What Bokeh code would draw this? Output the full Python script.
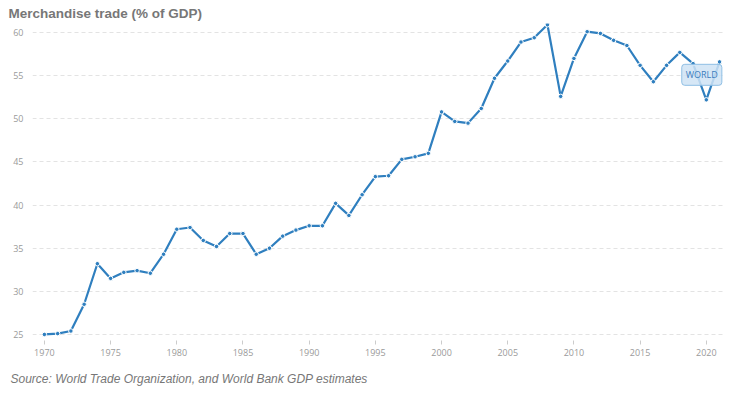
from bokeh.plotting import figure
from bokeh.models import Title, Label, FixedTicker, Range1d
from bokeh.embed import file_html
from bokeh.resources import INLINE

years = list(range(1970, 2022))
trade = [25.0, 25.1, 25.4, 28.5, 33.2, 31.5, 32.2, 32.4, 32.1, 34.3,
         37.2, 37.4, 35.9, 35.2, 36.7, 36.7, 34.3, 35.0, 36.4, 37.1,
         37.6, 37.6, 40.2, 38.8, 41.2, 43.3, 43.4, 45.3, 45.6, 46.0,
         50.8, 49.7, 49.5, 51.2, 54.7, 56.7, 58.9, 59.4, 60.9, 52.6,
         57.0, 60.1, 59.9, 59.1, 58.5, 56.2, 54.3, 56.2, 57.7, 56.4,
         52.2, 56.6]
x_ticks = [1970, 1975, 1980, 1985, 1990, 1995, 2000, 2005, 2010, 2015, 2020]
y_ticks = [25, 30, 35, 40, 45, 50, 55, 60]
title_text = "Merchandise trade (% of GDP)"
source_text = "Source: World Trade Organization, and World Bank GDP estimates"
series_name = "WORLD"

p = figure(width=731, height=398, output_backend="svg", toolbar_location=None,
           x_range=Range1d(1969.1, 2021.45), y_range=Range1d(24.3, 61.05),
           min_border_left=32, min_border_right=6, min_border_top=0,
           min_border_bottom=58)
p.outline_line_color = None
p.background_fill_color = "white"
p.border_fill_color = "white"

t = Title(text=title_text, text_font="Liberation Sans", text_font_size="13.5px",
          text_font_style="bold", text_color="#777777", offset=-24,
          standoff=6)
p.add_layout(t, "above")
s = Title(text=source_text, text_font="Liberation Sans", text_font_size="12px",
          text_font_style="italic", text_color="#777777", offset=-22, standoff=22,
          vertical_align="bottom")
p.add_layout(s, "below")

p.xgrid.grid_line_color = None
p.ygrid.grid_line_color = "#e3e3e3"
p.ygrid.grid_line_dash = "4 3"
p.ygrid.grid_line_width = 1

p.xaxis.ticker = FixedTicker(ticks=x_ticks)
p.yaxis.ticker = FixedTicker(ticks=y_ticks)
for ax in (p.xaxis, p.yaxis):
    ax.axis_line_color = None
    ax.minor_tick_line_color = None
    ax.major_label_text_font = "Open Sans"
    ax.major_label_text_font_size = "9px"
    ax.major_label_text_color = "#9a9a9a"
p.xaxis.major_tick_line_color = "#cccccc"
p.xaxis.major_tick_in = 0
p.xaxis.major_tick_out = 4
p.xaxis.major_label_standoff = 4
p.yaxis.major_tick_line_color = None
p.yaxis.major_label_standoff = 3

color = "#2f7fbf"
p.line(years, trade, line_color=color, line_width=2.2)
p.scatter(years, trade, size=4.5, fill_color=color, line_color="white", line_width=1)

p.add_layout(Label(x=2019.66, y=55.1, text=series_name, text_font="Open Sans",
                   text_font_size="9px", text_color="#3a7cbd",
                   text_align="center", text_baseline="middle",
                   background_fill_color="#cfe3f4", background_fill_alpha=0.85,
                   border_line_color="#8fbfe4", border_radius=3,
                   padding=4))

open("out.html", "w").write(file_html(p, INLINE))
